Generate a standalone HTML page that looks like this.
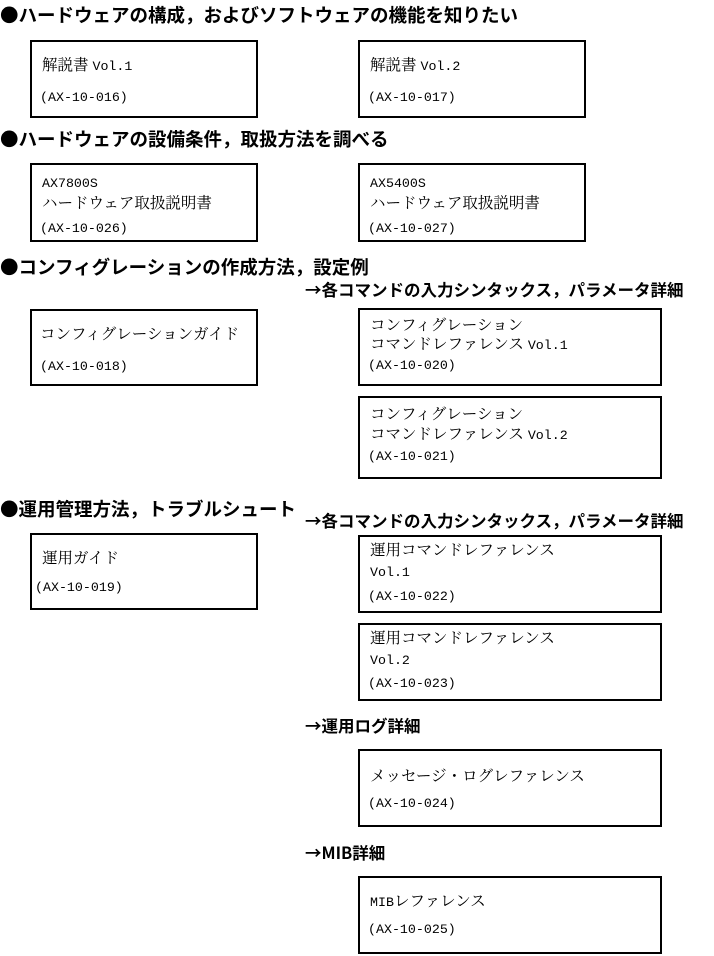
<!DOCTYPE html>
<html><head><meta charset="utf-8"><style>
body{margin:0;width:714px;height:956px;background:#fff;position:relative;overflow:hidden;color:#000}
.h{position:absolute;font-family:"Noto Sans CJK JP",sans-serif;font-weight:bold;font-size:18.5px;line-height:22px;white-space:nowrap}
.s{position:absolute;font-family:"Noto Sans CJK JP",sans-serif;font-weight:bold;font-size:16.5px;line-height:20px;white-space:nowrap}
.b{position:absolute;border:2px solid #000;box-sizing:border-box}
.t{position:absolute;font-family:"Noto Serif CJK JP","Noto Serif CJK SC",serif;font-size:15.5px;line-height:18px;white-space:nowrap}
.m{font-family:"Liberation Mono",monospace;font-size:13.3px}
</style></head><body>
<div class="h" style="left:0;top:4px">●ハードウェアの構成，およびソフトウェアの機能を知りたい</div>
<div class="b" style="left:30px;top:40px;width:228px;height:78px"></div>
<div class="t" style="left:42px;top:55px">解説書 <span class="m">Vol.1</span></div>
<div class="t" style="left:40px;top:86px"><span class="m">(AX-10-016)</span></div>
<div class="b" style="left:358px;top:40px;width:228px;height:78px"></div>
<div class="t" style="left:370px;top:55px">解説書 <span class="m">Vol.2</span></div>
<div class="t" style="left:368px;top:86px"><span class="m">(AX-10-017)</span></div>

<div class="h" style="left:0;top:128px">●ハードウェアの設備条件，取扱方法を調べる</div>
<div class="b" style="left:30px;top:163px;width:228px;height:79px"></div>
<div class="t" style="left:42px;top:172px"><span class="m">AX7800S</span></div>
<div class="t" style="left:42px;top:193px">ハードウェア取扱説明書</div>
<div class="t" style="left:40px;top:217px"><span class="m">(AX-10-026)</span></div>
<div class="b" style="left:358px;top:163px;width:228px;height:79px"></div>
<div class="t" style="left:370px;top:172px"><span class="m">AX5400S</span></div>
<div class="t" style="left:370px;top:193px">ハードウェア取扱説明書</div>
<div class="t" style="left:368px;top:217px"><span class="m">(AX-10-027)</span></div>

<div class="h" style="left:0;top:256px">●コンフィグレーションの作成方法，設定例</div>
<div class="s" style="left:305px;top:279px">→各コマンドの入力シンタックス，パラメータ詳細</div>
<div class="b" style="left:30px;top:309px;width:228px;height:77px"></div>
<div class="t" style="left:40px;top:324px">コンフィグレーションガイド</div>
<div class="t" style="left:40px;top:355px"><span class="m">(AX-10-018)</span></div>
<div class="b" style="left:358px;top:308px;width:304px;height:78px"></div>
<div class="t" style="left:370px;top:315px">コンフィグレーション</div>
<div class="t" style="left:370px;top:334px">コマンドレファレンス <span class="m">Vol.1</span></div>
<div class="t" style="left:368px;top:354px"><span class="m">(AX-10-020)</span></div>
<div class="b" style="left:358px;top:396px;width:304px;height:83px"></div>
<div class="t" style="left:370px;top:404px">コンフィグレーション</div>
<div class="t" style="left:370px;top:424px">コマンドレファレンス <span class="m">Vol.2</span></div>
<div class="t" style="left:368px;top:445px"><span class="m">(AX-10-021)</span></div>

<div class="h" style="left:0;top:498px">●運用管理方法，トラブルシュート</div>
<div class="s" style="left:305px;top:510px">→各コマンドの入力シンタックス，パラメータ詳細</div>
<div class="b" style="left:30px;top:533px;width:228px;height:77px"></div>
<div class="t" style="left:42px;top:548px">運用ガイド</div>
<div class="t" style="left:35px;top:576px"><span class="m">(AX-10-019)</span></div>
<div class="b" style="left:358px;top:535px;width:304px;height:78px"></div>
<div class="t" style="left:370px;top:540px">運用コマンドレファレンス</div>
<div class="t" style="left:370px;top:561px"><span class="m">Vol.1</span></div>
<div class="t" style="left:368px;top:585px"><span class="m">(AX-10-022)</span></div>
<div class="b" style="left:358px;top:623px;width:304px;height:78px"></div>
<div class="t" style="left:370px;top:628px">運用コマンドレファレンス</div>
<div class="t" style="left:370px;top:649px"><span class="m">Vol.2</span></div>
<div class="t" style="left:368px;top:672px"><span class="m">(AX-10-023)</span></div>

<div class="s" style="left:305px;top:715px">→運用ログ詳細</div>
<div class="b" style="left:358px;top:749px;width:304px;height:78px"></div>
<div class="t" style="left:370px;top:766px">メッセージ・ログレファレンス</div>
<div class="t" style="left:368px;top:792px"><span class="m">(AX-10-024)</span></div>

<div class="s" style="left:305px;top:842px">→MIB詳細</div>
<div class="b" style="left:358px;top:876px;width:304px;height:78px"></div>
<div class="t" style="left:370px;top:891px"><span class="m">MIB</span>レファレンス</div>
<div class="t" style="left:368px;top:918px"><span class="m">(AX-10-025)</span></div>
</body></html>
